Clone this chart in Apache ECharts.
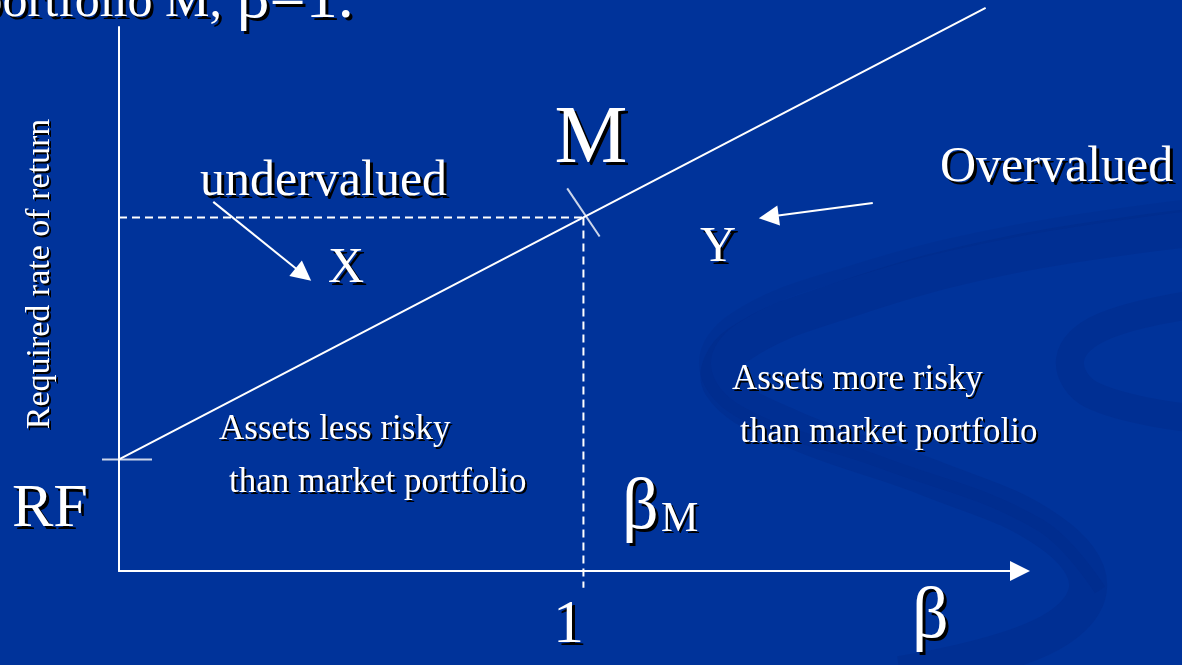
<!DOCTYPE html>
<html>
<head>
<meta charset="utf-8">
<script src="https://cdn.jsdelivr.net/npm/echarts@6/dist/echarts.min.js"></script>
<style>
  html, body { margin: 0; padding: 0; background: #00339a; }
  #chart { width: 1182px; height: 665px; }
</style>
</head>
<body>
<div id="chart"></div>
<script>
// Security market line: beta on x, required return (%) on y
const smlBeta = [0, 1, 1.866];
const smlReturn = [4.1, 13.0, 20.7];
const riskFree = 4.1;
const marketBeta = 1;
const marketReturn = 13.0;
const guideBottom = -0.62;           // dashed guide runs a little past the beta axis
const betaTickLabels = [1];

// annotation arrows [from, to] in (beta, return)
const undervaluedArrow = [[0.203, 13.57], [0.397, 10.90]];
const overvaluedArrow = [[1.623, 13.53], [1.399, 13.02]];

const SERIF = '"Liberation Serif", "Times New Roman", serif';
const WHITE = '#ffffff';

// slide text: text, x, baseline y, font size, align
const textLayout = [
  ['portfolio M,', 222, 18, 50, 'right'],
  ['β=1.', 237, 20, 64, 'left'],
  ['M', 591, 165, 82, 'center'],
  ['undervalued', 200, 197, 50, 'left'],
  ['Overvalued', 940, 183, 50, 'left'],
  ['X', 328, 284, 50, 'left'],
  ['Y', 700, 263, 50, 'left'],
  ['Assets less risky', 219, 440, 35, 'left'],
  ['than market portfolio', 229, 493, 35, 'left'],
  ['Assets more risky', 732, 390, 35, 'left'],
  ['than market portfolio', 740, 443, 35, 'left'],
  ['RF', 12, 529, 62, 'left'],
  ['β', 622, 531, 72, 'left'],
  ['M', 661, 533, 42, 'left'],
  ['β', 912, 640, 72, 'left']
];

// crisp black drop shadow behind the white slide text
function shadowFor(size) {
  const o = size >= 45 ? 3 : 2;
  return { textShadowColor: '#000', textShadowBlur: 0.1, textShadowOffsetX: o, textShadowOffsetY: o };
}

const textEls = textLayout.map(([t, x, base, fs, align]) => ({
  type: 'text',
  x: x,
  y: base - 0.305 * fs,
  z: 20,
  silent: true,
  style: Object.assign({
    text: t,
    fill: WHITE,
    font: fs + 'px ' + SERIF,
    textAlign: align,
    textVerticalAlign: 'middle',
    verticalAlign: 'middle'
  }, shadowFor(fs))
}));

// vertical axis caption
textEls.push({
  type: 'text',
  x: 50 - 0.305 * 34,
  y: 274,
  rotation: Math.PI / 2,
  z: 20,
  silent: true,
  style: Object.assign({
    text: 'Required rate of return',
    fill: WHITE,
    font: '34px ' + SERIF,
    textAlign: 'center',
    textVerticalAlign: 'middle',
    verticalAlign: 'middle'
  }, shadowFor(34))
});

// faint ribbon swirl of the slide background
const swirlColor = 'rgba(0, 28, 110, 0.17)';
const swirlEls = [
  {
    type: 'polyline', z: 0, silent: true,
    shape: { smooth: 0.4, points: [[1190, 228], [1010, 255], [850, 298], [738, 345], [722, 385], [790, 428], [930, 478], [1050, 532], [1088, 588], [1040, 638], [900, 675]] },
    style: { stroke: swirlColor, lineWidth: 38, fill: null }
  },
  {
    type: 'polyline', z: 0, silent: true,
    shape: { smooth: 0.4, points: [[1190, 205], [1010, 232], [850, 272], [735, 318], [705, 365], [740, 412], [880, 462], [1040, 525], [1100, 590]] },
    style: { stroke: 'rgba(0, 28, 110, 0.10)', lineWidth: 12, fill: null }
  },
  {
    type: 'polyline', z: 0, silent: true,
    shape: { smooth: 0.4, points: [[1190, 305], [1100, 328], [1070, 360], [1092, 395], [1190, 418]] },
    style: { stroke: swirlColor, lineWidth: 28, fill: null }
  }
];

const chart = echarts.init(document.getElementById('chart'), null, { renderer: 'canvas' });

const labelShadow = { textShadowColor: '#000', textShadowBlur: 0.1, textShadowOffsetX: 3, textShadowOffsetY: 3 };

chart.setOption({
  backgroundColor: '#00339a',
  animation: false,
  grid: { left: 119, top: 27, width: 901, height: 544 },
  xAxis: {
    type: 'value',
    min: 0,
    max: 1.94,
    interval: 1,
    axisLine: {
      show: true,
      symbol: ['none', 'triangle'],
      symbolSize: [20, 20],
      lineStyle: { color: WHITE, width: 2 }
    },
    axisTick: { show: false },
    splitLine: { show: false },
    axisLabel: Object.assign({
      showMinLabel: true,
      showMaxLabel: false,
      formatter: v => (betaTickLabels.indexOf(v) >= 0 ? String(v) : ''),
      color: WHITE,
      fontFamily: SERIF,
      fontSize: 62,
      margin: 24,
      padding: [0, 30, 0, 0]
    }, labelShadow)
  },
  yAxis: {
    type: 'value',
    min: 0,
    max: 20,
    axisLine: { show: true, lineStyle: { color: WHITE, width: 2 } },
    axisTick: { show: false },
    axisLabel: { show: false },
    splitLine: { show: false }
  },
  graphic: { elements: swirlEls.concat(textEls) },
  series: [
    {
      name: 'SML',
      type: 'line',
      data: smlBeta.map((b, i) => [b, smlReturn[i]]),
      symbol: 'none',
      clip: false,
      silent: true,
      z: 5,
      lineStyle: { color: WHITE, width: 2 }
    },
    {
      name: 'market return guide',
      type: 'line',
      data: [[0, marketReturn], [marketBeta, marketReturn]],
      symbol: 'none',
      silent: true,
      z: 4,
      lineStyle: { color: WHITE, width: 2, type: [8, 5] }
    },
    {
      name: 'market beta guide',
      type: 'line',
      data: [[marketBeta, marketReturn], [marketBeta, guideBottom]],
      symbol: 'none',
      clip: false,
      silent: true,
      z: 4,
      lineStyle: { color: WHITE, width: 2, type: [8, 5] }
    },
    {
      name: 'tick marks',
      type: 'scatter',
      silent: true,
      z: 6,
      itemStyle: { color: WHITE },
      data: [
        { value: [0, riskFree], symbol: 'rect', symbolSize: [50, 2], symbolOffset: [8, 0] },
        { value: [marketBeta, marketReturn], symbol: 'rect', symbolSize: [2, 58], symbolRotate: 34, symbolOffset: [0, -5] }
      ]
    },
    {
      name: 'arrows',
      type: 'lines',
      coordinateSystem: 'cartesian2d',
      silent: true,
      z: 6,
      symbol: ['none', 'triangle'],
      symbolSize: [1, 20],
      lineStyle: { color: WHITE, width: 2, opacity: 1, curveness: 0 },
      data: [
        { coords: undervaluedArrow },
        { coords: overvaluedArrow }
      ]
    }
  ]
});
</script>
</body>
</html>
